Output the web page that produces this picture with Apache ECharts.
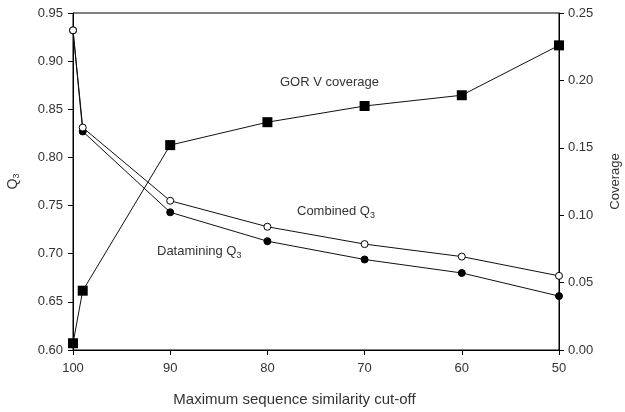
<!DOCTYPE html>
<html><head><meta charset="utf-8">
<script src="https://cdn.jsdelivr.net/npm/echarts@6/dist/echarts.min.js"></script>
<style>html,body{margin:0;padding:0;background:#fff}#c{width:625px;height:412px}</style>
</head><body><div id="c"></div>
<script>
const cutoffs = [100, 99, 90, 80, 70, 60, 50];
const combinedQ3 = [0.932, 0.831, 0.755, 0.728, 0.710, 0.697, 0.677];
const dataminingQ3 = [0.932, 0.827, 0.743, 0.713, 0.694, 0.680, 0.656];
const gorCoverage = [0.005, 0.044, 0.152, 0.169, 0.181, 0.189, 0.226];
const leftTicks = [0.60, 0.65, 0.70, 0.75, 0.80, 0.85, 0.90, 0.95];
const rightTicks = [0.00, 0.05, 0.10, 0.15, 0.20, 0.25];

const pairs = (ys) => cutoffs.map((x, i) => [x, ys[i]]);
const font = 'Liberation Sans, Arial, sans-serif';
const txt = '#333';
const axisCommon = {
  axisLine: {show: true, lineStyle: {color: '#000', width: 1}},
  axisTick: {show: true, inside: false, length: 5, lineStyle: {color: '#000'}},
  splitLine: {show: false},
  axisLabel: {color: txt, fontFamily: font, fontSize: 13}
};
const chart = echarts.init(document.getElementById('c'));
chart.setOption({
  animation: false,
  backgroundColor: '#fff',
  grid: {left: 73, right: 66, top: 13, bottom: 62, show: true, borderColor: '#000', borderWidth: 1,
         containLabel: false, outerBoundsMode: 'none'},
  xAxis: Object.assign({}, axisCommon, {
    type: 'value', inverse: true, min: 50, max: 100, interval: 10,
    name: 'Maximum sequence similarity cut-off', nameLocation: 'middle', nameGap: 42,
    nameTextStyle: {color: txt, fontFamily: font, fontSize: 15, padding: [0, 43, 0, 0]},
    axisLabel: Object.assign({}, axisCommon.axisLabel, {margin: 12})
  }),
  yAxis: [
    Object.assign({}, axisCommon, {
      type: 'value', min: 0.60, max: 0.95, interval: 0.05, position: 'left',
      axisLabel: Object.assign({}, axisCommon.axisLabel, {margin: 10, formatter: v => v.toFixed(2)}),
      name: '{q|Q}{s|3}', nameLocation: 'middle', nameGap: 52, nameRotate: 90,
      nameTextStyle: {color: txt, fontFamily: font, fontSize: 14,
        rich: {q: {fontFamily: font, fontSize: 14, color: txt}, s: {fontFamily: font, fontSize: 9, color: txt, verticalAlign: 'bottom', padding: [7, 0, 0, 0]}}}
    }),
    Object.assign({}, axisCommon, {
      type: 'value', min: 0, max: 0.25, interval: 0.05, position: 'right',
      axisLabel: Object.assign({}, axisCommon.axisLabel, {margin: 9, formatter: v => v.toFixed(2)}),
      name: 'Coverage', nameLocation: 'middle', nameGap: 50, nameRotate: 90,
      nameTextStyle: {color: txt, fontFamily: font, fontSize: 13}
    })
  ],
  series: [
    {type: 'line', name: 'Combined Q3', yAxisIndex: 0, data: pairs(combinedQ3),
     symbol: 'circle', symbolSize: 7, z: 3,
     lineStyle: {color: '#111', width: 1}, itemStyle: {color: '#fff', borderColor: '#000', borderWidth: 1}},
    {type: 'line', name: 'Datamining Q3', yAxisIndex: 0, data: pairs(dataminingQ3),
     symbol: 'circle', symbolSize: 7, z: 2,
     lineStyle: {color: '#111', width: 1}, itemStyle: {color: '#000', borderColor: '#000'}},
    {type: 'line', name: 'GOR V coverage', yAxisIndex: 1, data: pairs(gorCoverage),
     symbol: 'rect', symbolSize: 10, z: 4,
     lineStyle: {color: '#111', width: 1}, itemStyle: {color: '#000'}}
  ],
  graphic: [
    {type: 'text', left: 280, top: 76, style: {text: 'GOR V coverage', font: '13px ' + font, fill: txt}},
    {type: 'text', left: 297, top: 205, style: {text: '{a|Combined Q}{s|3}', font: '13px ' + font, fill: txt,
      rich: {a: {fontFamily: font, fontSize: 13, fill: txt}, s: {fontFamily: font, fontSize: 9, fill: txt, padding: [9, 0, 0, 0]}}}},
    {type: 'text', left: 157, top: 245, style: {text: '{a|Datamining Q}{s|3}', font: '13px ' + font, fill: txt,
      rich: {a: {fontFamily: font, fontSize: 13, fill: txt}, s: {fontFamily: font, fontSize: 9, fill: txt, padding: [9, 0, 0, 0]}}}}
  ]
});
</script></body></html>
